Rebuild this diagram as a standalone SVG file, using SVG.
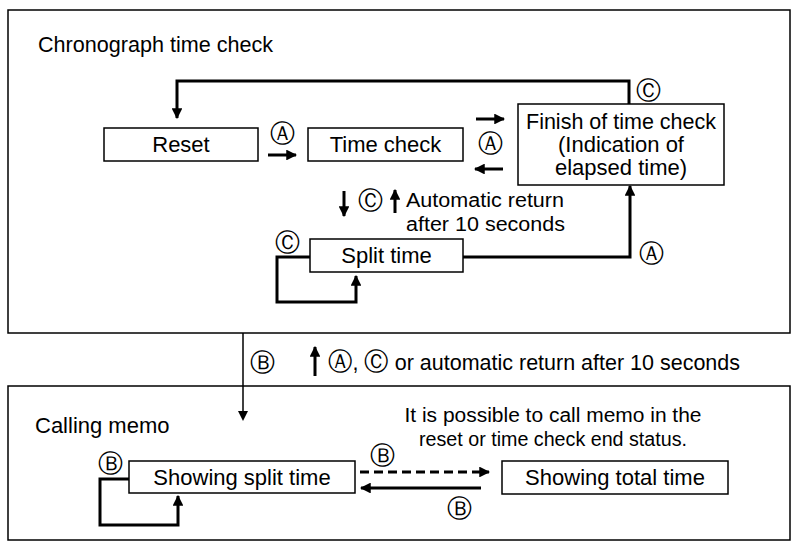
<svg xmlns="http://www.w3.org/2000/svg" width="799" height="548" viewBox="0 0 799 548">
<defs>
<marker id="ah" viewBox="0 0 10 10" refX="9" refY="5" markerWidth="3.6" markerHeight="3.6" orient="auto"><path d="M0,0 L10,5 L0,10 z" fill="#000"/></marker>
</defs>
<style>
text{font-family:"Liberation Sans",Arial,sans-serif;font-size:22px;fill:#000}
.c{font-size:25px}
.t{font-size:20px}
.b{fill:#fff;stroke:#000;stroke-width:1.5}
.f{fill:none;stroke:#000;stroke-width:1.5}
.a{fill:none;stroke:#000;stroke-width:3;marker-end:url(#ah)}
.m{text-anchor:middle}
</style>
<rect width="799" height="548" fill="#fff"/>
<g id="frame1"><rect class="f" x="8" y="10" width="782" height="323"/><text x="38" y="52" textLength="235" lengthAdjust="spacingAndGlyphs">Chronograph time check</text></g>
<g id="frame2"><rect class="f" x="8" y="386" width="782" height="154"/><text x="35" y="433">Calling memo</text></g>
<g id="reset"><rect class="b" x="104" y="128" width="154" height="33"/><text class="m" x="181" y="152">Reset</text></g>
<g id="timecheck"><rect class="b" x="308" y="128" width="155" height="33"/><text class="m" x="385.5" y="152">Time check</text></g>
<g id="finish"><rect class="b" x="518" y="104" width="206" height="81"/><text class="m" x="621" y="129" textLength="190" lengthAdjust="spacingAndGlyphs">Finish of time check</text><text class="m" x="621" y="152">(Indication of</text><text class="m" x="621" y="175">elapsed time)</text></g>
<g id="split"><rect class="b" x="310" y="239" width="153" height="33"/><text class="m" x="386.5" y="263">Split time</text></g>
<g id="showsplit"><rect class="b" x="129" y="461" width="226" height="32"/><text class="m" x="242" y="485">Showing split time</text></g>
<g id="showtotal"><rect class="b" x="502" y="461" width="226" height="33"/><text class="m" x="615" y="485">Showing total time</text></g>
<g id="connectors">
<path class="a" d="M629,104 V81 H177 V118"/>
<path class="a" d="M268,155 H296"/>
<path class="a" d="M476,119 H504"/>
<path class="a" d="M503,169 H475"/>
<path class="a" d="M344,191 V216"/>
<path class="a" d="M395,213 V190"/>
<path class="a" d="M463,257 H630 V186"/>
<path class="a" d="M310,257 H277 V302 H356 V276"/>
<path class="f" d="M243,333 V412"/>
<path d="M238,411 L243,421 L248,411 z"/>
<path class="a" d="M315,376 V347"/>
<path class="a" d="M360,472 H489" stroke-dasharray="9,5"/>
<path class="a" d="M481,488 H361"/>
<path class="a" d="M129,479 H100 V525 H178 V496"/>
</g>
<g id="labels">
<text class="m c" x="648" y="99">Ⓒ</text>
<text class="m c" x="282" y="142">Ⓐ</text>
<text class="m c" x="490" y="152">Ⓐ</text>
<text class="m c" x="370" y="209">Ⓒ</text>
<text class="t" x="406" y="207" textLength="158" lengthAdjust="spacingAndGlyphs">Automatic return</text>
<text class="t" x="406" y="231" textLength="159" lengthAdjust="spacingAndGlyphs">after 10 seconds</text>
<text class="m c" x="651" y="262">Ⓐ</text>
<text class="m c" x="287" y="251">Ⓒ</text>
<text class="m c" x="262" y="371">Ⓑ</text>
<text x="328" y="370" textLength="412" lengthAdjust="spacingAndGlyphs"><tspan class="c">Ⓐ</tspan>, <tspan class="c">Ⓒ</tspan> or automatic return after 10 seconds</text>
<text class="m t" x="553" y="422" textLength="297" lengthAdjust="spacingAndGlyphs">It is possible to call memo in the</text>
<text class="m t" x="553" y="446" textLength="268" lengthAdjust="spacingAndGlyphs">reset or time check end status.</text>
<text class="m c" x="382" y="464">Ⓑ</text>
<text class="m c" x="459" y="517">Ⓑ</text>
<text class="m c" x="110" y="472">Ⓑ</text>
</g>
</svg>
